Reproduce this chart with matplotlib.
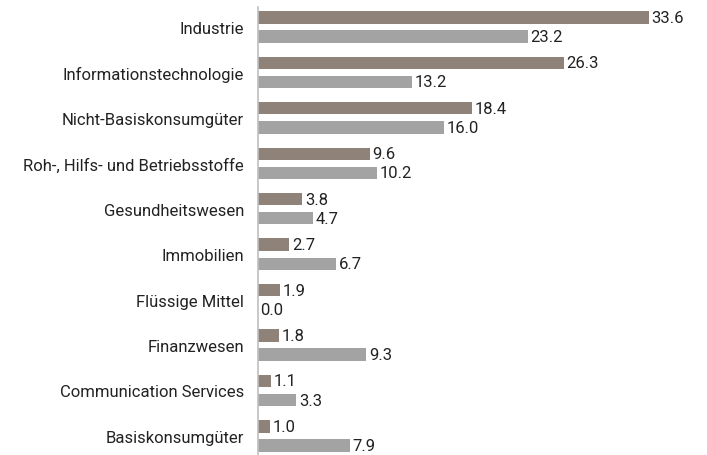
import matplotlib
matplotlib.use("Agg")
import matplotlib.pyplot as plt
import numpy as np

categories = [
    "Industrie",
    "Informationstechnologie",
    "Nicht-Basiskonsumgüter",
    "Roh-, Hilfs- und Betriebsstoffe",
    "Gesundheitswesen",
    "Immobilien",
    "Flüssige Mittel",
    "Finanzwesen",
    "Communication Services",
    "Basiskonsumgüter",
]
fund = [33.6, 26.3, 18.4, 9.6, 3.8, 2.7, 1.9, 1.8, 1.1, 1.0]
benchmark = [23.2, 13.2, 16.0, 10.2, 4.7, 6.7, 0.0, 9.3, 3.3, 7.9]

plt.rcParams["font.family"] = ["Roboto", "DejaVu Sans"]

fig = plt.figure(figsize=(7.07, 4.56), dpi=100)
ax = fig.add_axes([258 / 707, 0, 1 - 258 / 707, 448 / 456])

y = np.arange(len(categories))
h = 0.27
off = 0.21
ax.barh(y - off, fund, height=h, color="#8f8279")
ax.barh(y + off, benchmark, height=h, color="#a3a3a3")

# Wertbeschriftungen rechts neben den Balken
for yi, v in zip(y - off, fund):
    ax.text(v + 0.22, yi, f"{v:.1f}", va="center", ha="left", fontsize=12, color="#222222")
for yi, v in zip(y + off, benchmark):
    ax.text(v + 0.22, yi, f"{v:.1f}", va="center", ha="left", fontsize=12, color="#222222")

ax.set_xlim(0, 449 / 11.64)
ax.set_ylim(9 + 0.42, -0.44)
ax.set_yticks(y)
ax.set_yticklabels(categories, fontsize=12, color="#222222")
ax.tick_params(axis="y", length=0, pad=10)
ax.set_xticks([])
for s in ["top", "right", "bottom"]:
    ax.spines[s].set_visible(False)
ax.spines["left"].set_color("#bfbfbf")
ax.spines["left"].set_linewidth(1.2)

fig.savefig("out.png", dpi=100)
